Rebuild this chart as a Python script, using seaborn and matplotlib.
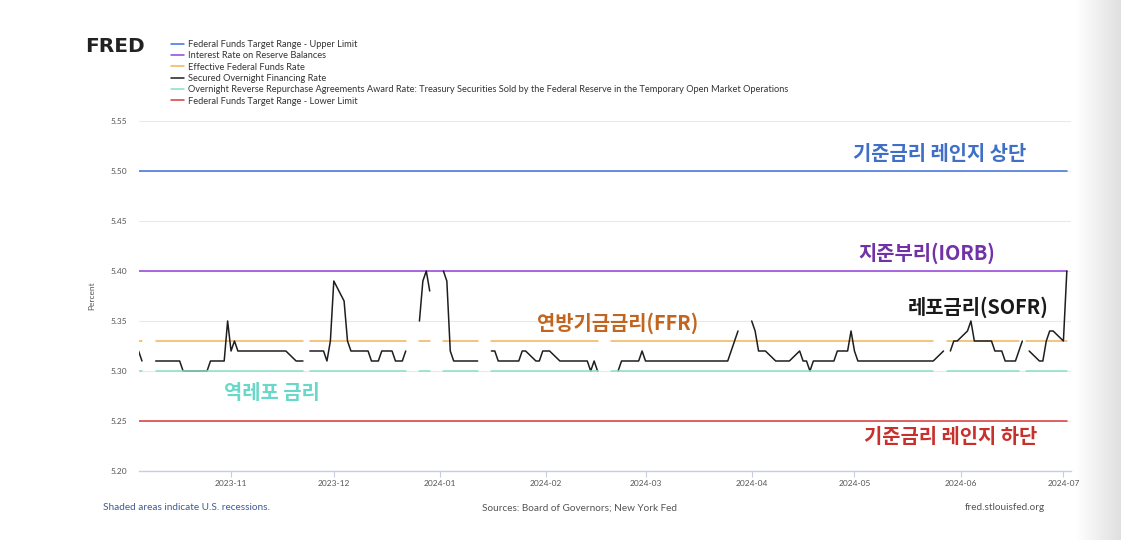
import numpy as np
import pandas as pd
import matplotlib.pyplot as plt
import matplotlib.dates as mdates
from matplotlib.lines import Line2D
from matplotlib.colors import LinearSegmentedColormap
import seaborn as sns

# --- data -------------------------------------------------------------
start_date = '2023-10-05'
end_date = '2024-07-02'

# days with no EFFR / ON RRP print (Fed holidays)
holidays = ['2023-10-09', '2023-11-23', '2023-12-25', '2024-01-01',
            '2024-01-15', '2024-02-19', '2024-05-27', '2024-06-19']

upper_limit = 5.50
iorb = 5.40
effr = 5.33
on_rrp = 5.30
lower_limit = 5.25

# SOFR, one value per business day (None = no print)
sofr_oct = [5.32, 5.31, None, 5.31, 5.31, 5.31, 5.31, 5.31, 5.31, 5.30,
            5.30, 5.30, 5.30, 5.30, 5.30, 5.31, 5.31, 5.31, 5.35]
sofr_nov = [5.32, 5.33, 5.32, 5.32, 5.32, 5.32, 5.32, 5.32, 5.32, 5.32,
            5.32, 5.32, 5.32, 5.31, 5.31, 5.31, None, 5.32, 5.32, 5.32,
            5.31, 5.33]
sofr_dec = [5.39, 5.37, 5.33, 5.32, 5.32, 5.32, 5.32, 5.31, 5.31, 5.31,
            5.32, 5.32, 5.31, 5.31, 5.31, 5.32, None, 5.35, 5.39, 5.40,
            5.38]
sofr_jan = [None, 5.40, 5.39, 5.32, 5.31, 5.31, 5.31, 5.31, 5.31, 5.31,
            None, 5.32, 5.32, 5.31, 5.31, 5.31, 5.31, 5.31, 5.32, 5.32,
            5.31, 5.31, 5.32]
sofr_feb = [5.32, 5.32, 5.31, 5.31, 5.31, 5.31, 5.31, 5.31, 5.31, 5.30,
            5.31, 5.30, None, None, None, 5.30, 5.31, 5.31, 5.31, 5.31,
            5.32]
sofr_mar = [5.31, 5.31, 5.31, 5.31, 5.31, 5.31, 5.31, 5.31, 5.31, 5.31,
            5.31, 5.31, 5.31, 5.31, 5.31, 5.31, 5.31, 5.32, 5.33, 5.34,
            None]
sofr_apr = [5.35, 5.34, 5.32, 5.32, 5.32, 5.31, 5.31, 5.31, 5.31, 5.31,
            5.32, 5.31, 5.31, 5.30, 5.31, 5.31, 5.31, 5.31, 5.31, 5.32,
            5.32, 5.34]
sofr_may = [5.32, 5.31, 5.31, 5.31, 5.31, 5.31, 5.31, 5.31, 5.31, 5.31,
            5.31, 5.31, 5.31, 5.31, 5.31, 5.31, 5.31, 5.31, 5.32, None,
            5.32, 5.33, 5.33, 5.34]
sofr_jun = [5.35, 5.33, 5.33, 5.33, 5.33, 5.32, 5.32, 5.32, 5.31, 5.31,
            5.32, 5.33, None, 5.32, 5.31, 5.31, 5.33, 5.34, 5.34, 5.33]
sofr_jul = [5.40, None]

series_names = [
    'Federal Funds Target Range - Upper Limit',
    'Interest Rate on Reserve Balances',
    'Effective Federal Funds Rate',
    'Secured Overnight Financing Rate',
    'Overnight Reverse Repurchase Agreements Award Rate: Treasury Securities '
    'Sold by the Federal Reserve in the Temporary Open Market Operations',
    'Federal Funds Target Range - Lower Limit',
]
series_colors = ['#3f6fdc', '#9340dc', '#f0b458', '#1e1e1e', '#88e0c6', '#d93a3a']

# --- build frame ------------------------------------------------------
dates = pd.bdate_range(start_date, end_date)
is_holiday = dates.isin(pd.to_datetime(holidays))
sofr = (sofr_oct + sofr_nov + sofr_dec + sofr_jan + sofr_feb + sofr_mar
        + sofr_apr + sofr_may + sofr_jun + sofr_jul)
sofr = sofr + [None] * (len(dates) - len(sofr))

wide = pd.DataFrame({
    series_names[0]: upper_limit,
    series_names[1]: iorb,
    series_names[2]: np.where(is_holiday, np.nan, effr),
    series_names[3]: pd.array(sofr[:len(dates)], dtype='float'),
    series_names[4]: np.where(is_holiday, np.nan, on_rrp),
    series_names[5]: lower_limit,
}, index=dates)
wide.index.name = 'date'

long = wide.reset_index().melt(id_vars='date', var_name='series', value_name='rate')
# break the line wherever a value is missing
long['seg'] = long.groupby('series')['rate'].transform(lambda s: s.isna().cumsum())
long = long.dropna(subset=['rate'])

# --- plot -------------------------------------------------------------
sns.set_theme(style='white')
plt.rcParams['font.family'] = ['Lato', 'Noto Sans CJK KR', 'DejaVu Sans']

fig = plt.figure(figsize=(11.21, 5.40), dpi=100)
fig.patch.set_facecolor('white')

# soft grey shadow on the right edge
shade = fig.add_axes([1076 / 1121, 0, 45 / 1121, 1])
shade.imshow(np.linspace(0, 1, 64)[None, :], aspect='auto',
             cmap=LinearSegmentedColormap.from_list('sh', ['#ffffff', '#e0e0e0']))
shade.axis('off')

ax = fig.add_axes([0.1236, 0.1278, 0.8319, 0.6481])
sns.lineplot(data=long, x='date', y='rate', hue='series', hue_order=series_names,
             palette=series_colors, units='seg', estimator=None,
             linewidth=1.1, legend=False, ax=ax)

ax.set_ylim(5.20, 5.55)
ax.set_yticks(np.arange(5.20, 5.551, 0.05))
ax.yaxis.set_major_formatter(plt.FormatStrFormatter('%.2f'))
ax.set_xlim(pd.Timestamp('2023-10-05'), pd.Timestamp('2024-07-03 06:00'))
ax.xaxis.set_major_locator(mdates.MonthLocator())
ax.xaxis.set_major_formatter(mdates.DateFormatter('%Y-%m'))

ax.grid(axis='y', color='#e9e9e9', linewidth=0.8)
ax.set_axisbelow(True)
for side in ['top', 'left', 'right']:
    ax.spines[side].set_visible(False)
ax.spines['bottom'].set_color('#c6cee0')
ax.spines['bottom'].set_linewidth(1.0)
ax.tick_params(axis='x', colors='#c6cee0', labelcolor='#555555', labelsize=6,
               length=4, width=0.8, pad=2.5, bottom=True)
ax.tick_params(axis='y', labelcolor='#555555', labelsize=6, length=0, pad=8)
ax.set_xlabel('')
ax.set_ylabel('Percent', fontsize=6, color='#555555', labelpad=11)

# Korean call-outs
ko = ['Noto Sans CJK KR', 'DejaVu Sans']
notes = [
    ('기준금리 레인지 상단', '2024-05-26', 5.518, '#3f6fc6'),
    ('지준부리(IORB)', '2024-05-22', 5.418, '#7032a6'),
    ('레포금리(SOFR)', '2024-06-06', 5.364, '#1a1a1a'),
    ('연방기금금리(FFR)', '2024-02-22', 5.348, '#c2651f'),
    ('역레포 금리', '2023-11-13', 5.278, '#6ad8c8'),
    ('기준금리 레인지 하단', '2024-05-29', 5.234, '#c8302c'),
]
for text, day, y, color in notes:
    ax.text(pd.Timestamp(day), y, text, ha='center', va='center',
            fontsize=14.3, fontweight='bold', color=color, family=ko, zorder=5)

# header: logo text + legend
fig.text(85 / 1121, 1 - 46 / 540, 'FRED', fontsize=14.5, fontweight='heavy',
         color='#222222', va='center', ha='left', family=['DejaVu Sans'])
handles = [Line2D([], [], color=c, linewidth=1.1) for c in series_colors]
fig.legend(handles, series_names, loc='upper left',
           bbox_to_anchor=(171 / 1121, 1 - 40 / 540), frameon=False,
           fontsize=6.7, handlelength=1.4, handletextpad=0.45,
           labelspacing=0.25, borderpad=0, borderaxespad=0,
           labelcolor='#333333')

# footer
fig.text(103 / 1121, 1 - 508 / 540, 'Shaded areas indicate U.S. recessions.',
         fontsize=7.2, color='#3f5a96', va='center', ha='left')
fig.text(579 / 1121, 1 - 508 / 540, 'Sources: Board of Governors; New York Fed',
         fontsize=7.2, color='#555555', va='center', ha='center')
fig.text(1045 / 1121, 1 - 508 / 540, 'fred.stlouisfed.org',
         fontsize=7.2, color='#555555', va='center', ha='right')

fig.savefig('out.png', dpi=100, facecolor='white')
